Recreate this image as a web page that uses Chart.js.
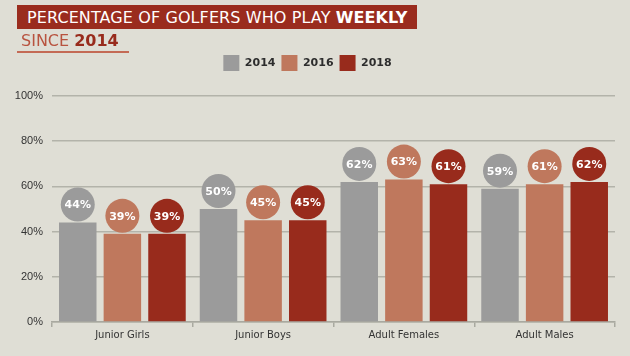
<!DOCTYPE html>
<html>
<head>
<meta charset="utf-8">
<script src="https://cdn.jsdelivr.net/npm/chart.js@4/dist/chart.umd.min.js"></script>
<style>
  html, body { margin: 0; padding: 0; background: #dfded5; }
  #wrap { position: relative; width: 630px; height: 356px; overflow: hidden; }
  #chart { position: absolute; left: 0; top: 0; }
  #title {
    position: absolute; left: 17px; top: 5px; width: 390px; height: 24px;
    background: #9a2c1e; color: #ffffff; padding-left: 10px;
    font-family: "DejaVu Sans", sans-serif; font-size: 16px; line-height: 25px;
    letter-spacing: 0.1px; white-space: nowrap; overflow: hidden;
  }
  #title b { font-weight: bold; }
  #subtitle {
    position: absolute; left: 17px; top: 31px; width: 108px; height: 20px;
    padding-left: 4px; color: #b8533f;
    font-family: "DejaVu Sans", sans-serif; font-size: 16px; line-height: 20px;
    border-bottom: 2px solid #c46a55; white-space: nowrap;
  }
  #subtitle b { color: #982b1c; }
</style>
</head>
<body>
<div id="wrap">
  <canvas id="chart" width="630" height="356"></canvas>
  <div id="title">PERCENTAGE OF GOLFERS WHO PLAY <b>WEEKLY</b></div>
  <div id="subtitle">SINCE <b>2014</b></div>
</div>
<script>
const categories = ['Junior Girls', 'Junior Boys', 'Adult Females', 'Adult Males'];
const seriesNames = ['2014', '2016', '2018'];
const values2014 = [44, 50, 62, 59];
const values2016 = [39, 45, 63, 61];
const values2018 = [39, 45, 61, 62];
const yTicks = [0, 20, 40, 60, 80, 100];
const colors = ['#9b9b9b', '#bf785d', '#982b1c'];

const circleLabels = {
  id: 'circleLabels',
  afterDatasetsDraw(chart) {
    const ctx = chart.ctx;
    ctx.save();
    chart.data.datasets.forEach((ds, di) => {
      const meta = chart.getDatasetMeta(di);
      meta.data.forEach((bar, i) => {
        const cx = bar.x, cy = bar.y - 18;
        ctx.beginPath();
        ctx.arc(cx, cy, 17, 0, Math.PI * 2);
        ctx.fillStyle = ds.backgroundColor;
        ctx.fill();
        ctx.fillStyle = '#ffffff';
        ctx.font = 'bold 11px "DejaVu Sans", sans-serif';
        ctx.textAlign = 'center';
        ctx.textBaseline = 'middle';
        ctx.fillText(ds.data[i] + '%', cx, cy + 1);
      });
    });
    ctx.restore();
  }
};

const legendSpacer = {
  id: 'legendSpacer',
  beforeInit(chart) {
    const lg = chart.legend;
    if (lg && !lg._patched) {
      const orig = lg.fit;
      lg.fit = function () { orig.call(this); this.height += 15; };
      lg._patched = true;
    }
  }
};

new Chart(document.getElementById('chart'), {
  type: 'bar',
  data: {
    labels: categories,
    datasets: [
      { label: seriesNames[0], data: values2014, backgroundColor: colors[0] },
      { label: seriesNames[1], data: values2016, backgroundColor: colors[1] },
      { label: seriesNames[2], data: values2018, backgroundColor: colors[2] }
    ]
  },
  options: {
    responsive: false,
    animation: false,
    layout: { padding: { top: 49, right: 15, bottom: 0, left: 0 } },
    datasets: { bar: { categoryPercentage: 0.951, barPercentage: 0.84, borderWidth: 0 } },
    plugins: {
      legend: {
        position: 'top',
        labels: {
          boxWidth: 16, boxHeight: 16, padding: 6,
          color: '#2d2d2d',
          font: { family: '"DejaVu Sans", sans-serif', size: 11, weight: 'bold' }
        }
      },
      tooltip: { enabled: false }
    },
    scales: {
      x: {
        grid: { drawOnChartArea: false, drawTicks: true, tickLength: 5, color: '#a9a9a0', lineWidth: 1.5 },
        border: { display: true, color: '#a9a9a0', width: 1.5 },
        ticks: { color: '#333333', padding: 2, font: { family: '"DejaVu Sans", sans-serif', size: 10 } },
        afterFit(scale) { scale.height = 34; }
      },
      y: {
        min: 0, max: 100,
        afterBuildTicks(scale) { scale.ticks = yTicks.map(v => ({ value: v })); },
        grid: { drawTicks: false, color: '#b3b3aa', lineWidth: 1.5 },
        border: { display: false },
        ticks: {
          color: '#333333', padding: 9,
          font: { family: '"Liberation Sans", sans-serif', size: 11 },
          callback: v => v + '%'
        },
        afterFit(scale) { scale.width = 52; }
      }
    }
  },
  plugins: [circleLabels, legendSpacer]
});
</script>
</body>
</html>
